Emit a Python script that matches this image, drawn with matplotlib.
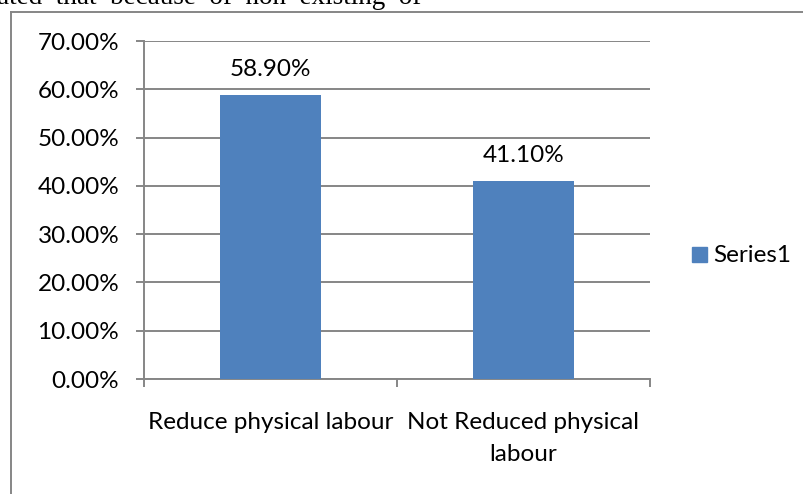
import matplotlib.pyplot as plt
from matplotlib.patches import Rectangle
from matplotlib.lines import Line2D

categories = ['Reduce physical labour', 'Not Reduced physical\nlabour']
values = [58.90, 41.10]
series_name = 'Series1'
yticks = [0, 10, 20, 30, 40, 50, 60, 70]

W, H = 804, 494
fig = plt.figure(figsize=(W / 100, H / 100), dpi=100)
plt.rcParams['font.family'] = ['Lato', 'DejaVu Sans']

grey = '#868686'
blue = '#4F81BD'
fs = 17.5

# chart frame (only the top and left edges fall inside the page)
fig.add_artist(Line2D([10.8 / W, 1.0], [1 - 11.8 / H, 1 - 11.8 / H], color=grey, lw=1.4))
fig.add_artist(Line2D([10.8 / W, 10.8 / W], [0, 1 - 11.8 / H], color=grey, lw=1.4))

# body text running above the chart
fig.text(-3 / W, 1 - 4.5 / H, 'ated  that  because  of  non  existing  of',
         family='Liberation Serif', fontsize=19.5, va='baseline', ha='left')

ax = fig.add_axes([144 / W, 1 - 379 / H, (650 - 144) / W, (379 - 41) / H])
x = range(len(categories))
bars = ax.bar(x, values, width=0.4, color=blue, label=series_name, zorder=3)
ax.set_xlim(-0.5, len(categories) - 0.5)
ax.set_ylim(0, 70)

ax.set_yticks(yticks)
ax.set_yticklabels([f'{v:.2f}%' for v in yticks], fontsize=fs)
ax.yaxis.grid(True, color=grey, lw=1.4, zorder=0)
ax.tick_params(axis='y', length=5.8, width=1.4, color=grey, pad=12)

ax.set_xticks([-0.5, 0.5, 1.5])
ax.set_xticklabels([])
ax.tick_params(axis='x', length=5.8, width=1.4, color=grey)
for i, c in enumerate(categories):
    ax.text(i, -6.9, c, ha='center', va='top', fontsize=fs, linespacing=1.6)

for s in ['top', 'right']:
    ax.spines[s].set_visible(False)
for s in ['left', 'bottom']:
    ax.spines[s].set_color(grey)
    ax.spines[s].set_linewidth(1.4)

for b, v in zip(bars, values):
    ax.text(b.get_x() + b.get_width() / 2, v + 3.8, f'{v:.2f}%',
            ha='center', va='baseline', fontsize=fs)

# legend
fig.add_artist(Rectangle((692 / W, 1 - 262 / H), 15 / W, 15 / H,
                         transform=fig.transFigure, color=blue))
fig.text(713 / W, 1 - 255 / H, series_name, fontsize=fs, va='center', ha='left')

fig.savefig('out.png', dpi=100)
